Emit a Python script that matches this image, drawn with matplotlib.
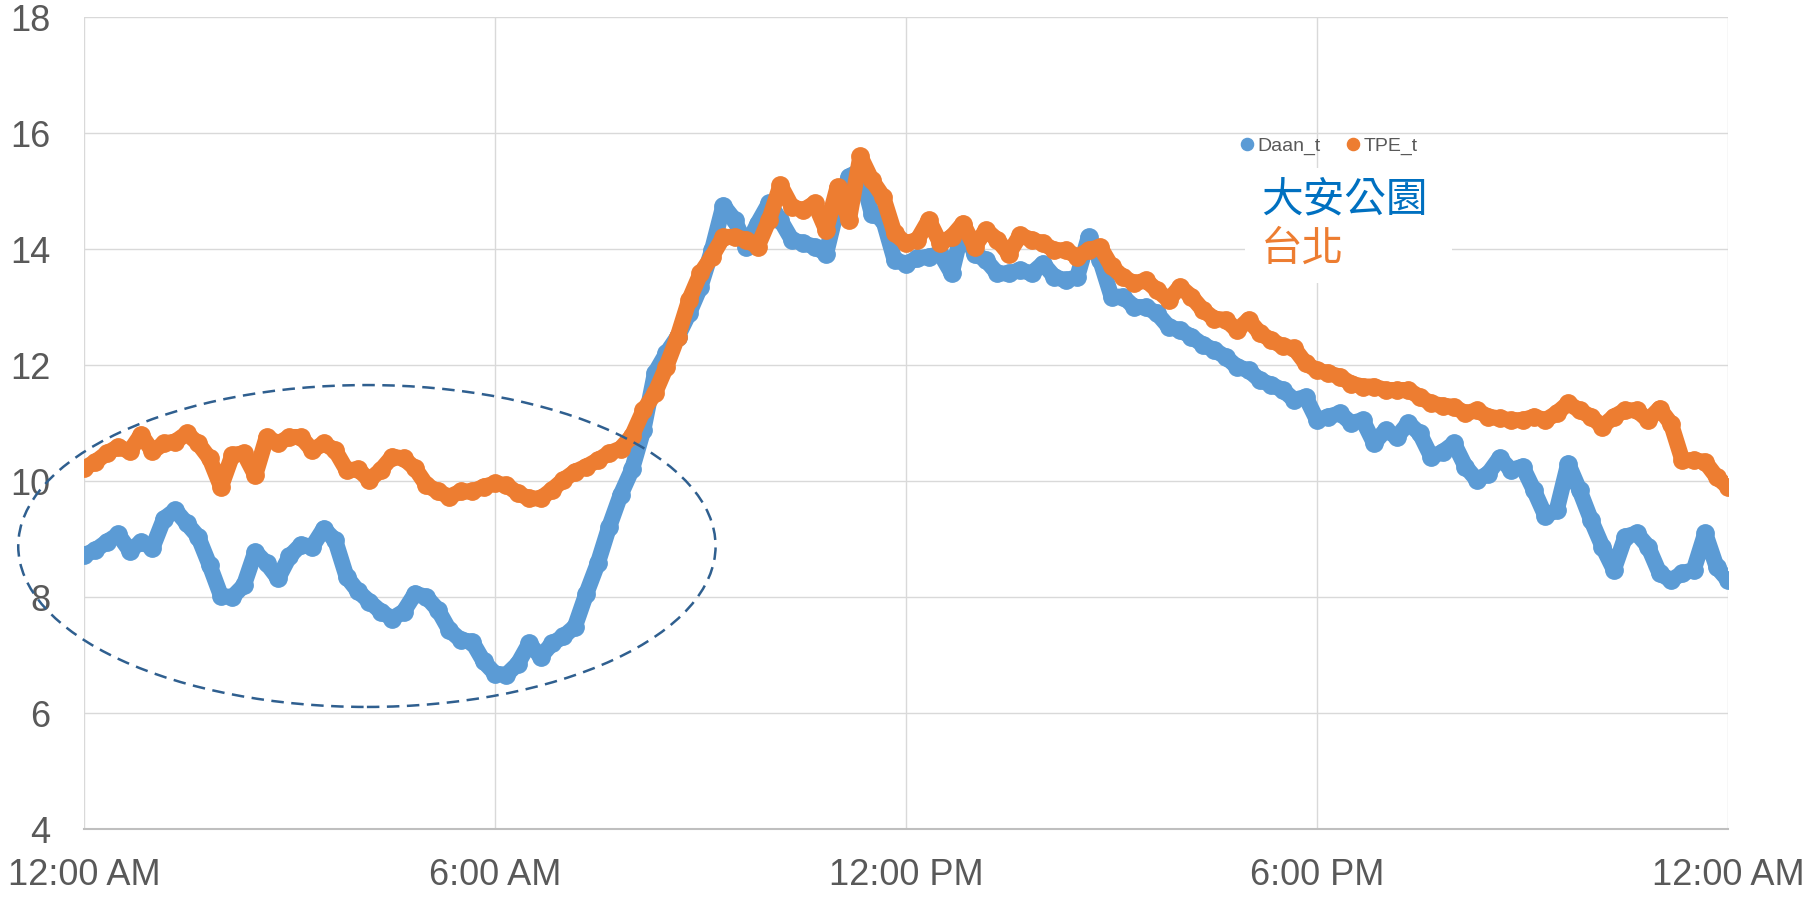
import numpy as np
import matplotlib.pyplot as plt
from matplotlib import font_manager
from matplotlib.patches import Ellipse, Rectangle

# Temperature readings every 10 minutes, 00:00 -> 24:00
daanTemp = [
    8.72, 8.81, 8.95, 9.08, 8.80, 8.95, 8.85, 9.35, 9.50, 9.27, 9.04, 8.55,
    8.02, 8.00, 8.20, 8.78, 8.58, 8.32, 8.70, 8.90, 8.87, 9.18, 8.98, 8.35,
    8.10, 7.92, 7.75, 7.63, 7.75, 8.06, 8.00, 7.78, 7.43, 7.26, 7.23, 6.89,
    6.68, 6.66, 6.85, 7.20, 6.97, 7.20, 7.32, 7.49, 8.06, 8.58, 9.21, 9.76,
    10.20, 10.88, 11.86, 12.20, 12.49, 12.89, 13.35, 13.98, 14.75, 14.50, 14.04, 14.44,
    14.79, 14.50, 14.16, 14.10, 14.04, 13.92, 14.73, 15.25, 15.36, 14.61, 14.50, 13.81,
    13.75, 13.84, 13.87, 13.92, 13.58, 14.39, 13.92, 13.81, 13.58, 13.58, 13.64, 13.58,
    13.75, 13.52, 13.46, 13.52, 14.21, 13.81, 13.18, 13.18, 13.00, 13.00, 12.89, 12.66,
    12.60, 12.49, 12.35, 12.26, 12.14, 11.97, 11.91, 11.74, 11.66, 11.57, 11.40, 11.45,
    11.05, 11.11, 11.17, 11.00, 11.05, 10.65, 10.88, 10.76, 11.00, 10.82, 10.42, 10.50,
    10.65, 10.25, 10.02, 10.13, 10.40, 10.19, 10.25, 9.84, 9.40, 9.50, 10.30, 9.84,
    9.33, 8.87, 8.47, 9.04, 9.10, 8.87, 8.41, 8.29, 8.41, 8.47, 9.10, 8.52,
    8.29,
]
tpeTemp = [
    10.22, 10.33, 10.48, 10.59, 10.51, 10.80, 10.51, 10.65, 10.68, 10.82, 10.65, 10.39,
    9.90, 10.45, 10.48, 10.10, 10.76, 10.65, 10.76, 10.76, 10.53, 10.65, 10.53, 10.19,
    10.20, 10.02, 10.19, 10.42, 10.39, 10.22, 9.93, 9.82, 9.73, 9.82, 9.82, 9.90,
    9.96, 9.93, 9.79, 9.70, 9.70, 9.85, 10.02, 10.16, 10.25, 10.36, 10.48, 10.56,
    10.78, 11.22, 11.51, 11.97, 12.49, 13.12, 13.58, 13.87, 14.21, 14.21, 14.16, 14.04,
    14.50, 15.10, 14.73, 14.67, 14.79, 14.33, 15.07, 14.50, 15.60, 15.19, 14.90, 14.27,
    14.10, 14.16, 14.50, 14.10, 14.21, 14.44, 14.04, 14.33, 14.16, 13.92, 14.24, 14.16,
    14.10, 13.98, 13.98, 13.87, 13.98, 14.04, 13.70, 13.52, 13.41, 13.46, 13.29, 13.12,
    13.35, 13.18, 12.95, 12.80, 12.78, 12.60, 12.78, 12.55, 12.43, 12.32, 12.29, 12.03,
    11.91, 11.86, 11.80, 11.68, 11.63, 11.63, 11.57, 11.57, 11.57, 11.45, 11.34, 11.30,
    11.28, 11.17, 11.22, 11.11, 11.08, 11.05, 11.05, 11.11, 11.05, 11.17, 11.34, 11.22,
    11.11, 10.94, 11.11, 11.22, 11.22, 11.05, 11.25, 10.99, 10.36, 10.36, 10.33, 10.07,
    9.90,
]
hours = np.arange(len(daanTemp)) / 6.0

tickHours = [0, 6, 12, 18, 24]
tickLabels = ['12:00 AM', '6:00 AM', '12:00 PM', '6:00 PM', '12:00 AM']
seriesNames = ['Daan_t', 'TPE_t']
annotNames = ['大安公園', '台北']

blue = '#5b9bd5'
orange = '#ed7d31'
gray = '#595959'

available = {f.name for f in font_manager.fontManager.ttflist}
tickFont = 'Liberation Sans Narrow' if 'Liberation Sans Narrow' in available else 'Liberation Sans'
plt.rcParams['font.family'] = [tickFont, 'DejaVu Sans']

fig = plt.figure(figsize=(18.14, 8.98), dpi=100)
ax = fig.add_axes([0.0463, 0.0768, 0.9063, 0.9042])

style = dict(marker='o', markersize=12.5, linewidth=11.5, solid_capstyle='round',
             solid_joinstyle='round')
ax.plot(hours, daanTemp, color=blue, label=seriesNames[0], zorder=3, **style)
ax.plot(hours, tpeTemp, color=orange, label=seriesNames[1], zorder=4, **style)

ax.set_xlim(0, 24)
ax.set_ylim(4, 18)
ax.set_xticks(tickHours)
ax.set_xticklabels(tickLabels)
ax.set_yticks(range(4, 19, 2))
ax.tick_params(length=0, labelsize=26, labelcolor=gray)
ax.tick_params(axis='y', pad=24)
ax.tick_params(axis='x', pad=21)
ax.grid(True, color='#d9d9d9', linewidth=1)
ax.set_axisbelow(True)
for side in ['top', 'right', 'left']:
    ax.spines[side].set_visible(False)
ax.spines['bottom'].set_color('#bfbfbf')
ax.spines['bottom'].set_linewidth(1.5)

# white box behind the station names
ax.add_patch(Rectangle((0.706, 0.672), 0.126, 0.142, transform=ax.transAxes,
                       facecolor='white', edgecolor='none', zorder=1.5))

leg = ax.legend(loc='center', bbox_to_anchor=(0.758, 0.841), ncol=2, frameon=False,
                fontsize=14, markerscale=0.7, handlelength=0.5, handletextpad=0.3,
                columnspacing=1.4, labelcolor=gray)
for h in leg.legend_handles:
    h.set_linestyle('none')

cjk = ['Noto Sans CJK TC', 'DejaVu Sans']
ax.text(0.716, 0.775, annotNames[0], transform=ax.transAxes, color='#0070c0',
        fontsize=30, family=cjk, weight='light', va='center', ha='left', zorder=5)
ax.text(0.716, 0.714, annotNames[1], transform=ax.transAxes, color=orange,
        fontsize=30, family=cjk, weight='light', va='center', ha='left', zorder=5)

ax.add_patch(Ellipse((4.13, 8.88), 10.18, 5.55, fill=False, edgecolor='#2f5f8f',
                     linewidth=1.8, linestyle=(0, (5, 3)), clip_on=False, zorder=6))

fig.savefig('out.png', dpi=100)
